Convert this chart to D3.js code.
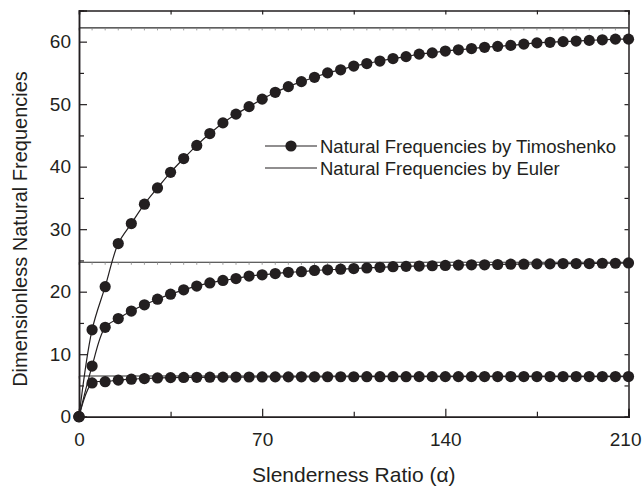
<!DOCTYPE html>
<html>
<head>
<meta charset="utf-8">
<script src="https://cdn.jsdelivr.net/npm/d3@7"></script>
<style>
  body { margin: 0; background: #fff; }
  text { font-family: "Liberation Sans", Arial, sans-serif; fill: #231f20; }
</style>
</head>
<body>
<div id="chart"></div>
<script>
// slenderness ratio samples
var alphas = [0, 5, 10, 15, 20, 25, 30, 35, 40, 45, 50, 55, 60, 65, 70, 75, 80, 85, 90, 95, 100,
  105, 110, 115, 120, 125, 130, 135, 140, 145, 150, 155, 160, 165, 170, 175, 180, 185, 190, 195, 200, 205, 210];

// Timoshenko, three modes
var mode1 = [0, 5.4, 5.6, 5.85, 6.0, 6.1, 6.2, 6.25, 6.28, 6.3, 6.32, 6.33, 6.34, 6.35, 6.36, 6.37, 6.37, 6.38, 6.38, 6.39, 6.39,
  6.39, 6.4, 6.4, 6.4, 6.4, 6.41, 6.41, 6.41, 6.41, 6.41, 6.42, 6.42, 6.42, 6.42, 6.42, 6.42, 6.42, 6.42, 6.42, 6.42, 6.42, 6.42];
var mode2 = [0, 8.1, 14.3, 15.7, 16.9, 17.9, 18.8, 19.6, 20.3, 20.9, 21.4, 21.8, 22.1, 22.5, 22.7, 22.9, 23.1, 23.2, 23.4, 23.5, 23.6,
  23.7, 23.8, 23.9, 24.0, 24.05, 24.1, 24.15, 24.2, 24.25, 24.3, 24.3, 24.35, 24.4, 24.4, 24.45, 24.45, 24.5, 24.5, 24.5, 24.55, 24.55, 24.6];
var mode3 = [0, 13.9, 20.8, 27.7, 30.9, 34.0, 36.6, 39.1, 41.3, 43.4, 45.3, 47.0, 48.4, 49.6, 50.8, 51.9, 52.8, 53.6, 54.3, 55.0, 55.5,
  56.1, 56.5, 56.9, 57.3, 57.6, 58.0, 58.2, 58.5, 58.7, 58.9, 59.1, 59.25, 59.4, 59.6, 59.8, 59.9, 60.0, 60.1, 60.2, 60.3, 60.4, 60.4];

// Euler, constant per mode
var euler = [6.5, 24.7, 62.2];

var xTicks = [0, 70, 140, 210];
var yTicks = [0, 10, 20, 30, 40, 50, 60];
var legendLabels = ["Natural Frequencies by Timoshenko", "Natural Frequencies by Euler"];
var xTitle = "Slenderness Ratio (\u03b1)";
var yTitle = "Dimensionless Natural Frequencies";

var width = 642, height = 488;
var margin = {left: 79, right: 13.5, top: 10.4, bottom: 71.3};
var ink = "#231f20";

var svg = d3.select("#chart").append("svg")
  .attr("width", width)
  .attr("height", height);

var x = d3.scaleLinear().domain([0, 210]).range([margin.left, width - margin.right]);
var y = d3.scaleLinear().domain([0, 65]).range([height - margin.bottom, margin.top]);

// euler lines with their small marks
var eg = svg.append("g");
euler.forEach(function(v) {
  eg.append("line")
    .attr("x1", x(0)).attr("x2", x(210))
    .attr("y1", y(v)).attr("y2", y(v))
    .attr("stroke", "#2a2a2a").attr("stroke-width", 1.1);
  eg.selectAll(null)
    .data(alphas)
    .enter()
    .append("line")
    .attr("x1", function(d) { return x(d); })
    .attr("x2", function(d) { return x(d); })
    .attr("y1", y(v))
    .attr("y2", y(v) + 2.5)
    .attr("stroke", "#888").attr("stroke-width", 0.8);
});

// timoshenko curves
var line = d3.line()
  .x(function(d) { return x(d[0]); })
  .y(function(d) { return y(d[1]); })
  .curve(d3.curveCatmullRom);

[mode1, mode2, mode3].forEach(function(vals) {
  var pts = alphas.map(function(a, i) { return [a, vals[i]]; });
  svg.append("path")
    .attr("d", line(pts))
    .attr("fill", "none")
    .attr("stroke", ink)
    .attr("stroke-width", 1.2);
  svg.append("g")
    .selectAll("circle")
    .data(pts)
    .enter()
    .append("circle")
    .attr("cx", function(d) { return x(d[0]); })
    .attr("cy", function(d) { return y(d[1]); })
    .attr("r", 5.6)
    .attr("fill", ink);
});

// frame + ticks
var gx = svg.append("g")
  .attr("transform", "translate(0," + y(0) + ")")
  .call(d3.axisBottom(x).tickValues(xTicks).tickSize(-8).tickPadding(16).tickFormat(d3.format("d")));
var gxm = svg.append("g")
  .attr("transform", "translate(0," + y(0) + ")")
  .call(d3.axisBottom(x).tickValues([35, 105, 175]).tickSize(-5).tickFormat(""));
var gxt = svg.append("g")
  .attr("transform", "translate(0," + y(65) + ")")
  .call(d3.axisTop(x).tickValues([0, 35, 70, 105, 140, 175, 210]).tickSize(-4).tickFormat(""));
var gy = svg.append("g")
  .attr("transform", "translate(" + x(0) + ",0)")
  .call(d3.axisLeft(y).tickValues(yTicks).tickSize(-8).tickPadding(8).tickFormat(d3.format("d")));
var gym = svg.append("g")
  .attr("transform", "translate(" + x(0) + ",0)")
  .call(d3.axisLeft(y).tickValues([5, 15, 25, 35, 45, 55]).tickSize(-5).tickFormat(""));
var gyr = svg.append("g")
  .attr("transform", "translate(" + x(210) + ",0)")
  .call(d3.axisRight(y).tickValues([0, 5, 10, 15, 20, 25, 30, 35, 40, 45, 50, 55, 60]).tickSize(-4).tickFormat(""));

[gx, gxm, gxt, gy, gym, gyr].forEach(function(g) {
  g.selectAll("path").attr("stroke", ink).attr("stroke-width", 1.5);
  g.selectAll("line").attr("stroke", ink).attr("stroke-width", 1.2);
  g.selectAll("text").attr("font-size", "19px").attr("fill", ink)
    .style("font-family", "'Liberation Sans', Arial, sans-serif");
});
// last x label sits against the right edge
gx.selectAll(".tick text").filter(function(d) { return d === 210; })
  .attr("text-anchor", "end").attr("x", width - 1 - x(210));

// titles
svg.append("text")
  .attr("x", (x(0) + x(210)) / 2)
  .attr("y", 482)
  .attr("text-anchor", "middle")
  .attr("font-size", "21px")
  .text(xTitle);

svg.append("text")
  .attr("transform", "translate(27," + 229 + ") rotate(-90)")
  .attr("text-anchor", "middle")
  .attr("font-size", "20px")
  .text(yTitle);

// legend
var leg = svg.append("g").attr("transform", "translate(265,146)");
leg.append("line").attr("x1", 0).attr("x2", 52).attr("y1", 0).attr("y2", 0)
  .attr("stroke", ink).attr("stroke-width", 1.2);
leg.append("circle").attr("cx", 26).attr("cy", 0).attr("r", 5.6).attr("fill", ink);
leg.append("line").attr("x1", 0).attr("x2", 52).attr("y1", 22).attr("y2", 22)
  .attr("stroke", ink).attr("stroke-width", 1.2);
leg.selectAll("text.lab")
  .data(legendLabels)
  .enter()
  .append("text")
  .attr("class", "lab")
  .attr("x", 55)
  .attr("y", function(d, i) { return i * 22 + 6.5; })
  .attr("font-size", "18.5px")
  .text(function(d) { return d; });
</script>
</body>
</html>
